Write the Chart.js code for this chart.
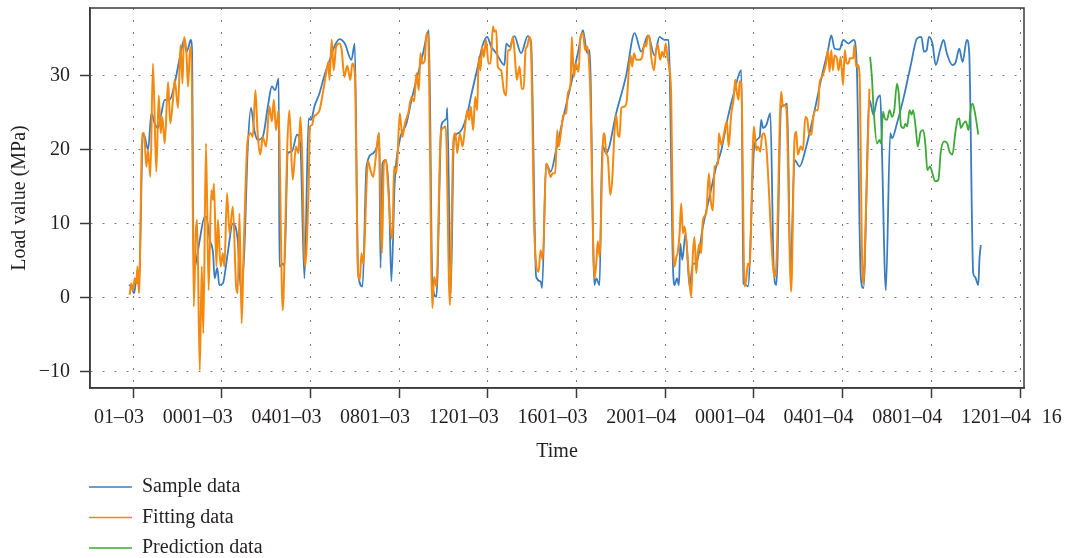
<!DOCTYPE html>
<html>
<head>
<meta charset="utf-8">
<script src="https://cdn.jsdelivr.net/npm/chart.js@4/dist/chart.umd.min.js"></script>
<style>
  html, body { margin: 0; padding: 0; background: #fff; }
  canvas { display: block; }
</style>
</head>
<body>
<canvas id="loadChart" width="1073" height="558" style="width:1073px;height:558px"></canvas>
<script>
// time in hours from the first labelled tick, load in MPa
const tickHours = [0, 4, 8, 12, 16, 20, 24, 28, 32, 36, 40];
const timeLabels = ["01–03", "0001–03", "0401–03", "0801–03", "1201–03", "1601–03",
  "2001–04", "0001–04", "0401–04", "0801–04", "1201–04", "1601–04"];
const loadTicks = [-10, 0, 10, 20, 30];

const samplePoints = [
  [-0.18, 1.7], [-0.08, 1.5], [0.05, 0.6], [0.15, 2.4], [0.23, 1.9], [0.30, 4.2], [0.45, 22.2], [0.53, 21.7],
  [0.68, 20.0], [0.83, 24.9], [0.98, 23.5], [1.13, 22.9], [1.28, 24.9], [1.43, 26.7], [1.65, 26.7], [1.88, 28.9],
  [2.03, 31.2], [2.18, 33.4], [2.30, 34.8], [2.41, 33.2], [2.51, 33.9], [2.60, 34.8], [2.66, 33.5], [2.74, 3.7],
  [2.86, 5.1], [3.01, 7.8], [3.23, 10.9], [3.31, 10.9], [3.46, 7.8], [3.61, 6.0], [3.68, 2.6], [3.80, 4.0],
  [3.89, 1.7], [4.05, 1.9], [4.27, 6.0], [4.50, 10.0], [4.72, 7.8], [4.87, 1.0], [5.02, 6.4], [5.17, 19.9],
  [5.32, 25.6], [5.47, 22.6], [5.62, 21.3], [5.85, 21.7], [6.08, 25.8], [6.26, 28.5], [6.41, 28.0], [6.57, 29.6],
  [6.60, 4.2], [6.75, 4.6], [6.83, 4.2], [6.98, 19.5], [7.16, 19.7], [7.40, 22.0], [7.55, 20.4], [7.73, 2.6],
  [7.92, 24.2], [8.03, 24.0], [8.18, 25.8], [8.41, 27.6], [8.63, 30.0], [8.86, 32.0], [9.08, 33.9], [9.31, 34.9],
  [9.55, 34.3], [9.85, 32.1], [10.00, 34.3], [10.15, 3.3], [10.35, 1.5], [10.53, 17.7], [10.83, 19.5], [11.00, 20.4],
  [11.10, 22.2], [11.16, 4.0], [11.25, 18.1], [11.40, 18.6], [11.55, 13.2], [11.65, 2.2], [11.80, 15.4], [12.03, 21.3],
  [12.33, 23.5], [12.56, 26.7], [12.86, 30.3], [13.08, 33.0], [13.34, 36.1], [13.50, 1.9], [13.68, 0.1], [13.91, 23.3],
  [14.14, 24.2], [14.17, 25.6], [14.33, 0.6], [14.47, 21.3], [14.66, 22.2], [14.89, 23.1], [15.11, 25.3], [15.25, 27.3],
  [15.55, 31.2], [15.77, 34.1], [15.97, 35.2], [16.15, 33.9], [16.38, 33.0], [16.75, 31.4], [16.83, 34.3], [16.98, 33.9],
  [17.20, 35.3], [17.50, 33.0], [17.80, 35.3], [17.95, 34.5], [18.18, 2.8], [18.38, 2.2], [18.45, 1.3], [18.63, 18.1],
  [18.83, 17.0], [19.08, 19.9], [19.43, 24.7], [19.76, 28.9], [20.06, 33.0], [20.29, 36.1], [20.48, 33.0], [20.59, 33.4],
  [20.81, 1.7], [20.89, 2.6], [21.04, 1.7], [21.16, 20.6], [21.34, 19.5], [21.79, 24.9], [22.24, 30.0], [22.62, 35.7],
  [22.92, 33.2], [23.22, 35.4], [23.52, 32.7], [23.74, 35.2], [23.97, 34.8], [24.15, 34.8], [24.35, 4.2], [24.42, 1.7],
  [24.53, 2.6], [24.62, 1.7], [24.68, 7.3], [24.77, 5.1], [24.92, 8.7], [25.10, 1.5], [25.25, 4.6], [25.40, 4.6],
  [25.70, 9.6], [26.00, 13.6], [26.30, 17.7], [26.53, 19.9], [26.83, 24.4], [27.13, 28.0], [27.43, 30.7], [27.53, 1.9],
  [27.65, 1.7], [27.73, 1.5], [28.03, 20.8], [28.26, 21.7], [28.33, 24.0], [28.41, 22.9], [28.56, 23.3], [28.74, 24.9],
  [28.89, 4.2], [29.01, 1.7], [29.23, 25.8], [29.38, 26.0], [29.50, 26.2], [29.65, 3.3], [29.83, 18.6], [30.06, 17.7],
  [30.36, 20.4], [30.74, 25.3], [31.04, 29.6], [31.34, 33.4], [31.49, 35.4], [31.64, 33.6], [31.86, 33.5], [32.03, 34.8],
  [32.26, 34.3], [32.50, 34.8], [32.64, 31.2], [32.82, 2.8], [32.94, 1.3], [33.21, 26.7], [33.39, 24.7], [33.55, 26.7],
  [33.70, 27.3], [33.77, 20.4], [33.95, 1.0], [34.15, 22.2], [34.23, 21.5], [34.45, 23.5], [34.76, 27.1], [35.06, 31.2],
  [35.36, 35.0], [35.55, 35.2], [35.67, 33.2], [35.79, 33.4], [35.89, 35.2], [36.05, 34.3], [36.20, 31.4], [36.39, 33.4],
  [36.55, 34.8], [36.70, 33.0], [36.95, 31.4], [37.10, 31.8], [37.26, 33.6], [37.41, 31.8], [37.60, 34.8], [37.71, 33.0],
  [37.89, 3.3], [37.97, 2.8], [38.12, 1.7], [38.17, 5.1], [38.23, 7.1]
];

const fittingPoints = [
  [-0.15, 0.4], [-0.08, 1.9], [0.0, 1.0], [0.08, 2.6], [0.15, 1.9], [0.2, 4.2], [0.27, 0.6], [0.42, 22.2],
  [0.5, 22.2], [0.6, 17.7], [0.68, 19.9], [0.78, 16.3], [0.9, 31.6], [1.05, 17.0], [1.16, 27.3], [1.25, 22.2],
  [1.32, 24.4], [1.43, 20.8], [1.58, 29.1], [1.68, 23.5], [1.8, 26.7], [1.88, 29.4], [2.03, 25.6], [2.14, 34.1],
  [2.23, 28.9], [2.3, 35.2], [2.41, 33.0], [2.48, 28.5], [2.56, 33.0], [2.63, 33.9], [2.74, -1.2], [2.83, 8.7],
  [2.89, 10.5], [3.01, -9.8], [3.1, 4.2], [3.17, -4.8], [3.29, 20.8], [3.41, 1.0], [3.53, 14.5], [3.61, 13.2],
  [3.65, 15.4], [3.76, 4.2], [3.83, 10.5], [3.95, 4.2], [4.05, 6.0], [4.12, 4.2], [4.24, 14.1], [4.35, 8.7],
  [4.5, 12.3], [4.65, 1.5], [4.72, 0.6], [4.8, 11.4], [4.9, -3.5], [4.99, 6.4], [5.17, 21.3], [5.32, 22.2],
  [5.4, 21.7], [5.52, 28.0], [5.62, 22.2], [5.74, 19.3], [5.85, 21.7], [6.0, 20.4], [6.15, 25.8], [6.26, 23.8],
  [6.35, 26.7], [6.45, 22.6], [6.56, 25.3], [6.75, -1.7], [6.86, 8.7], [6.95, 19.9], [7.05, 25.3], [7.2, 15.9],
  [7.35, 20.4], [7.46, 19.5], [7.55, 24.4], [7.62, 19.9], [7.76, 4.2], [7.92, 15.0], [7.98, 23.1], [8.08, 23.3],
  [8.15, 24.4], [8.26, 24.7], [8.41, 25.3], [8.56, 27.6], [8.71, 30.3], [8.81, 31.8], [8.86, 29.4], [8.96, 34.8],
  [9.05, 30.7], [9.16, 33.9], [9.31, 34.3], [9.41, 33.4], [9.53, 29.8], [9.66, 31.3], [9.8, 29.4], [9.89, 31.6],
  [10.0, 30.3], [10.15, 3.3], [10.23, 2.4], [10.3, 6.0], [10.38, 4.6], [10.6, 18.4], [10.71, 17.2], [10.83, 16.3],
  [10.95, 19.0], [11.08, 22.2], [11.23, 6.0], [11.31, 18.1], [11.4, 18.6], [11.5, 15.0], [11.61, 9.6], [11.7, 7.8],
  [11.77, 17.7], [11.88, 16.8], [12.03, 24.9], [12.15, 21.7], [12.26, 23.5], [12.41, 24.9], [12.56, 27.1], [12.68, 26.5],
  [12.78, 30.3], [12.89, 28.0], [12.96, 33.0], [13.05, 31.6], [13.16, 32.1], [13.23, 35.7], [13.31, 35.2], [13.5, -1.4],
  [13.58, 2.8], [13.68, 1.5], [13.88, 22.2], [13.98, 22.9], [14.1, 23.1], [14.29, -1.0], [14.44, 20.8], [14.54, 22.2],
  [14.62, 19.5], [14.74, 22.2], [14.86, 20.4], [14.96, 22.6], [15.07, 25.3], [15.16, 24.0], [15.23, 25.8], [15.34, 22.6],
  [15.43, 27.1], [15.52, 25.3], [15.59, 32.5], [15.67, 30.7], [15.74, 33.9], [15.82, 32.5], [15.92, 34.8], [16.03, 31.6],
  [16.12, 31.6], [16.23, 36.6], [16.3, 35.9], [16.38, 36.1], [16.45, 31.2], [16.6, 30.7], [16.72, 28.0], [16.83, 27.3],
  [16.9, 33.4], [17.0, 33.4], [17.13, 35.2], [17.2, 33.4], [17.31, 29.4], [17.43, 31.2], [17.53, 28.2], [17.62, 28.2],
  [17.7, 33.4], [17.77, 33.9], [17.88, 35.2], [17.95, 33.4], [18.1, 8.7], [18.29, 3.5], [18.38, 6.4], [18.48, 5.1],
  [18.63, 18.1], [18.7, 17.7], [18.83, 16.3], [18.93, 16.8], [19.04, 16.8], [19.13, 22.6], [19.2, 20.4], [19.31, 22.6],
  [19.41, 24.7], [19.53, 24.9], [19.61, 27.6], [19.73, 28.9], [19.79, 35.2], [19.88, 29.8], [19.98, 31.6], [20.09, 30.5],
  [20.18, 35.2], [20.29, 35.7], [20.39, 33.4], [20.48, 33.9], [20.56, 32.1], [20.63, 26.7], [20.81, 2.6], [20.89, 4.6],
  [20.96, 7.6], [21.04, 5.5], [21.19, 20.8], [21.26, 22.2], [21.34, 19.5], [21.41, 19.0], [21.52, 13.9], [21.61, 15.9],
  [21.71, 22.2], [21.79, 24.7], [21.86, 22.2], [21.94, 21.7], [22.02, 25.6], [22.17, 25.8], [22.27, 26.7], [22.36, 30.7],
  [22.44, 32.7], [22.51, 31.2], [22.59, 33.0], [22.69, 32.1], [22.84, 32.1], [22.96, 32.5], [23.07, 34.3], [23.14, 33.9],
  [23.22, 35.4], [23.29, 35.2], [23.37, 32.5], [23.49, 30.7], [23.59, 33.4], [23.67, 34.1], [23.77, 32.1], [23.86, 33.2],
  [23.94, 32.5], [24.02, 34.3], [24.09, 32.7], [24.17, 31.2], [24.27, 27.1], [24.35, 8.7], [24.42, 4.2], [24.5, 5.5],
  [24.56, 6.0], [24.65, 8.7], [24.72, 12.7], [24.8, 8.7], [24.87, 9.6], [24.95, 7.8], [25.02, 5.1], [25.17, 0.1],
  [25.25, 6.0], [25.32, 8.2], [25.4, 3.3], [25.47, 6.0], [25.55, 7.3], [25.62, 6.0], [25.7, 10.5], [25.85, 11.4],
  [25.97, 16.8], [26.05, 13.2], [26.15, 11.8], [26.23, 17.7], [26.38, 18.1], [26.42, 22.2], [26.53, 20.6], [26.6, 21.3],
  [26.68, 22.6], [26.78, 23.8], [26.86, 20.4], [26.98, 24.9], [27.08, 26.7], [27.16, 29.4], [27.23, 27.7], [27.31, 26.7],
  [27.35, 29.2], [27.43, 29.0], [27.58, 1.5], [27.65, 2.4], [27.73, 4.6], [27.8, 4.2], [28.0, 23.1], [28.11, 19.9],
  [28.18, 20.4], [28.29, 19.7], [28.36, 21.7], [28.45, 22.2], [28.56, 20.4], [28.86, 4.2], [28.93, 2.8], [29.01, 4.2],
  [29.23, 27.8], [29.31, 25.8], [29.38, 26.0], [29.46, 25.6], [29.68, 0.8], [29.83, 21.3], [29.91, 22.4], [29.98, 19.3],
  [30.11, 20.4], [30.21, 19.9], [30.32, 24.4], [30.41, 24.0], [30.48, 22.2], [30.59, 22.0], [30.68, 24.4], [30.78, 25.3],
  [30.89, 25.3], [30.96, 28.9], [31.07, 29.8], [31.16, 30.5], [31.25, 31.6], [31.34, 33.4], [31.41, 30.5], [31.49, 33.4],
  [31.56, 30.7], [31.64, 32.7], [31.74, 32.3], [31.82, 30.7], [31.91, 32.5], [32.02, 28.7], [32.1, 33.4], [32.18, 31.6],
  [32.26, 31.6], [32.33, 32.3], [32.48, 32.3], [32.53, 34.1], [32.61, 31.2], [32.68, 31.4], [32.76, 30.3], [32.88, 5.1],
  [32.94, 1.9], [32.98, 4.2], [33.17, 24.4], [33.21, 28.2]
];

const predictionPoints = [
  [33.24, 32.5], [33.32, 29.8], [33.39, 25.8], [33.55, 20.8], [33.67, 21.3], [33.74, 20.8], [33.82, 25.1], [33.9, 24.2],
  [34.0, 24.0], [34.12, 25.3], [34.23, 24.4], [34.33, 25.3], [34.45, 28.9], [34.53, 27.6], [34.64, 23.1], [34.76, 22.9],
  [34.83, 23.5], [34.91, 23.1], [35.02, 25.3], [35.11, 24.7], [35.18, 25.3], [35.29, 23.1], [35.39, 20.4], [35.52, 22.4],
  [35.64, 22.6], [35.74, 20.4], [35.82, 17.2], [35.94, 17.7], [36.05, 16.8], [36.17, 15.7], [36.32, 15.9], [36.42, 19.5],
  [36.58, 21.1], [36.73, 20.8], [36.8, 19.9], [36.95, 19.3], [37.08, 22.2], [37.18, 24.0], [37.26, 24.2], [37.33, 22.9],
  [37.45, 23.5], [37.56, 23.8], [37.68, 22.6], [37.77, 25.3], [37.86, 26.2], [37.97, 24.9], [38.12, 22.0]
];

const FONT = "'Liberation Serif', 'DejaVu Serif', serif";
const TEXT_COLOR = "#231f20";
const AXIS_COLOR = "#3a3a3a";
const GRID_COLOR = "#7a7a7a";

const toXY = (pts) => pts.map(([x, y]) => ({ x: x, y: y }));

// box round the plot, the clipped last time label and the legend under the axis
const framePlugin = {
  id: "frame",
  afterDraw(chart) {
    const { ctx, chartArea } = chart;
    const xScale = chart.scales.x;
    ctx.save();
    ctx.strokeStyle = AXIS_COLOR;
    ctx.lineWidth = 1.5;
    ctx.strokeRect(chartArea.left, chartArea.top, chartArea.right - chartArea.left, chartArea.bottom - chartArea.top);

    // next time label sits past the edge, only its first digits show
    ctx.font = "20px " + FONT;
    ctx.fillStyle = TEXT_COLOR;
    ctx.textBaseline = "middle";
    ctx.textAlign = "left";
    const last = timeLabels[timeLabels.length - 1];
    ctx.fillText(last.slice(0, 2), xScale.getPixelForValue(44) - 67, chartArea.bottom + 30);

    // legend, one entry per line
    chart.data.datasets.forEach((ds, i) => {
      const y = 487 + i * 30.5;
      ctx.strokeStyle = ds.borderColor;
      ctx.lineWidth = 1.5;
      ctx.beginPath();
      ctx.moveTo(89, y);
      ctx.lineTo(132, y);
      ctx.stroke();
      ctx.fillText(ds.label, 142, y);
    });
    ctx.restore();
  }
};

const tickFont = { family: FONT, size: 20 };

new Chart(document.getElementById("loadChart"), {
  type: "line",
  data: {
    datasets: [
      { label: "Sample data", data: toXY(samplePoints), borderColor: "#3a7cc1", borderWidth: 1.8, order: 3 },
      { label: "Fitting data", data: toXY(fittingPoints), borderColor: "#f5890f", borderWidth: 2, order: 2 },
      { label: "Prediction data", data: toXY(predictionPoints), borderColor: "#3aaa35", borderWidth: 1.8, order: 1 }
    ]
  },
  options: {
    responsive: false,
    animation: false,
    layout: { padding: { left: 0, top: 8, right: 49, bottom: 90 } },
    elements: {
      point: { radius: 0 },
      line: { cubicInterpolationMode: "monotone", fill: false }
    },
    plugins: {
      legend: { display: false },
      tooltip: { enabled: false }
    },
    scales: {
      x: {
        type: "linear",
        min: -1.94,
        max: 40.18,
        afterFit: (scale) => {
          scale.height = 80;
          scale.paddingLeft = 0;
          scale.paddingRight = 0;
        },
        afterBuildTicks: (scale) => { scale.ticks = tickHours.map((v) => ({ value: v })); },
        grid: { color: GRID_COLOR, lineWidth: 1, tickLength: 10, tickColor: AXIS_COLOR, tickWidth: 1.5, tickBorderDash: [] },
        border: { color: AXIS_COLOR, width: 1.5, dash: [2, 10] },
        ticks: {
          autoSkip: false,
          maxRotation: 0,
          align: "end",
          labelOffset: 11,
          padding: 8,
          color: TEXT_COLOR,
          font: tickFont,
          callback: (value) => timeLabels[Math.round(value / 4)]
        },
        title: { display: true, text: "Time", color: TEXT_COLOR, font: tickFont, padding: { top: 0, bottom: 4 } }
      },
      y: {
        min: -12.2,
        max: 39.1,
        afterFit: (scale) => {
          scale.width = 90;
          scale.paddingTop = 0;
          scale.paddingBottom = 0;
        },
        afterBuildTicks: (scale) => { scale.ticks = loadTicks.map((v) => ({ value: v })); },
        grid: { color: GRID_COLOR, lineWidth: 1, tickLength: 10, tickColor: AXIS_COLOR, tickWidth: 1.5, tickBorderDash: [] },
        border: { color: AXIS_COLOR, width: 1.5, dash: [2, 10] },
        ticks: {
          padding: 10,
          color: TEXT_COLOR,
          font: tickFont,
          callback: (value) => (value < 0 ? "\u2212" + Math.abs(value) : String(value))
        },
        title: { display: true, text: "Load value (MPa)", color: TEXT_COLOR, font: tickFont, padding: { top: 8, bottom: 0 } }
      }
    }
  },
  plugins: [framePlugin]
});
</script>
</body>
</html>
